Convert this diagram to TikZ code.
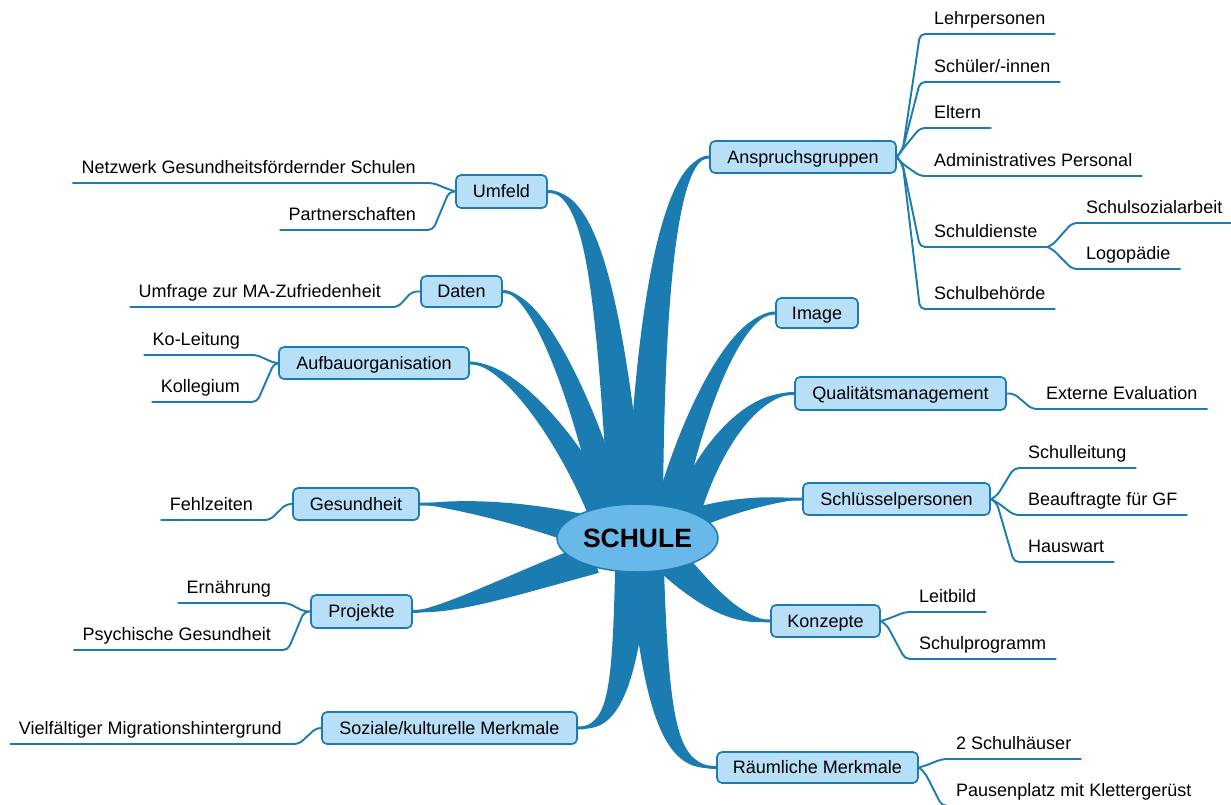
\documentclass[tikz,border=0pt]{standalone}
\usepackage{fontspec}
\setmainfont{Liberation Sans}
\usetikzlibrary{shapes.geometric,calc,backgrounds}
\definecolor{mmdark}{RGB}{27,124,178}
\definecolor{mmlight}{RGB}{184,223,248}
\definecolor{mmcenter}{RGB}{104,184,234}
\newcommand\mmfont{\fontsize{18}{21}\selectfont}
% #1 base, #2 half-width vector at base, #3 C1, #4 offset at C1, #5 C2, #6 offset at C2, #7 target
\newcommand\mmbranch[7]{%
  \fill[branch] ($#1-#2$) .. controls ($#3-#4$) and ($#5-#6$) .. #7
     .. controls ($#5+#6$) and ($#3+#4$) .. ($#1+#2$) -- cycle;
  \draw[branchline] #1 .. controls #3 and #5 .. #7;
}
\tikzset{
  mmnode/.style={draw=mmdark, fill=mmlight, line width=1.7pt, rounded corners=5pt,
    inner sep=0pt, text height=12.9pt, text depth=0pt, font=\mmfont},
  ctr/.style={ellipse, draw=mmdark, fill=mmcenter, line width=1.5pt, inner sep=0pt,
    minimum width=161pt, minimum height=68pt, text height=19pt, text depth=0pt,
    font=\bfseries\fontsize{26.5}{30}\selectfont},
  leafR/.style={inner sep=0pt, text height=13pt, text depth=9pt, anchor=south west, font=\mmfont,
    execute at begin node={\hspace*{14pt}}, execute at end node={\hspace*{10pt}}},
  leafL/.style={inner sep=0pt, text height=13pt, text depth=9pt, anchor=south east, font=\mmfont,
    execute at begin node={\hspace*{9pt}}, execute at end node={\hspace*{17pt}}},
  leafline/.style={draw=mmdark, line width=1.9pt, rounded corners=5pt},
  branch/.style={fill=mmdark},
  branchline/.style={draw=mmdark, line width=3pt},
}
\begin{document}
\begin{tikzpicture}[x=1pt,y=-1pt]
\useasboundingbox (0,0) rectangle (1231,804);
% central topic and main topics
\node[ctr] (c) at (637.5,538) {SCHULE};
\node[mmnode, minimum width=186pt, minimum height=32pt] (ansp) at (803,157) {Anspruchsgruppen};
\node[mmnode, minimum width=91pt, minimum height=33pt] (umfeld) at (501.5,191.5) {Umfeld};
\node[mmnode, minimum width=81pt, minimum height=31pt] (daten) at (461.5,291.5) {Daten};
\node[mmnode, minimum width=190pt, minimum height=32pt] (aufbau) at (374,363) {Aufbauorganisation};
\node[mmnode, minimum width=82pt, minimum height=30pt] (image) at (817,313) {Image};
\node[mmnode, minimum width=211pt, minimum height=33pt] (qm) at (900.5,393.5) {Qualitätsmanagement};
\node[mmnode, minimum width=187pt, minimum height=32pt] (schluessel) at (896.5,499) {Schlüsselpersonen};
\node[mmnode, minimum width=126pt, minimum height=32pt] (gesund) at (356,504) {Gesundheit};
\node[mmnode, minimum width=109pt, minimum height=32pt] (konzepte) at (825.5,621) {Konzepte};
\node[mmnode, minimum width=101pt, minimum height=33pt] (projekte) at (361.5,611.5) {Projekte};
\node[mmnode, minimum width=255pt, minimum height=32pt] (soziale) at (449.5,728) {Soziale/kulturelle Merkmale};
\node[mmnode, minimum width=201pt, minimum height=31pt] (raeumlich) at (817.5,767.5) {Räumliche Merkmale};
% right leaves
\node[leafR] (lehr) at (920,34) {Lehrpersonen};
\node[leafR] (schueler) at (920,82) {Schüler/-innen};
\node[leafR] (eltern) at (920,128) {Eltern};
\node[leafR] (admin) at (920,176) {Administratives Personal};
\node[leafR] (dienste) at (920,247) {Schuldienste};
\node[leafR] (behoerde) at (920,309) {Schulbehörde};
\node[leafR] (sozarb) at (1072,223) {Schulsozialarbeit};
\node[leafR] (logo) at (1072,269) {Logopädie};
\node[leafR] (extev) at (1032,409) {Externe Evaluation};
\node[leafR] (sl) at (1014,468) {Schulleitung};
\node[leafR] (bgf) at (1014,515) {Beauftragte für GF};
\node[leafR] (hw) at (1014,562) {Hauswart};
\node[leafR] (leitbild) at (905,612) {Leitbild};
\node[leafR] (schulprog) at (905,659) {Schulprogramm};
\node[leafR] (haeuser) at (942,759) {2 Schulhäuser};
\node[leafR] (pausen) at (942,806) {Pausenplatz mit Klettergerüst};
% left leaves
\node[leafL] (netz) at (433,183) {Netzwerk Gesundheitsfördernder Schulen};
\node[leafL] (partner) at (433,230) {Partnerschaften};
\node[leafL] (umfrage) at (398,307) {Umfrage zur MA-Zufriedenheit};
\node[leafL] (kol) at (257,355) {Ko-Leitung};
\node[leafL] (koll) at (257,402) {Kollegium};
\node[leafL] (fehl) at (270,520) {Fehlzeiten};
\node[leafL] (ern) at (288,603) {Ernährung};
\node[leafL] (psych) at (288,650) {Psychische Gesundheit};
\node[leafL] (viel) at (299,744) {Vielfältiger Migrationshintergrund};

\begin{pgfonlayer}{background}
\fill[white] (0,0) rectangle (1231,804);
% tapered main branches
\mmbranch{(627,515)}{(18,-1)}{(610,300)}{(14,-1)}{(592,191)}{(5,-4)}{(umfeld.east)}
\mmbranch{(645,515)}{(18,0)}{(650,290)}{(14,1)}{(672,157)}{(6,2.5)}{(ansp.west)}
\mmbranch{(612,515)}{(15,-3.4)}{(590,420)}{(11.2,-3.6)}{(540,291)}{(4.7,-3.1)}{(daten.east)}
\mmbranch{(605,518)}{(13,-5.9)}{(570,440)}{(9.2,-5.7)}{(510,363)}{(3.1,-4.2)}{(aufbau.east)}
\mmbranch{(668,515)}{(14,3.2)}{(690,420)}{(10.3,3.4)}{(735,313)}{(4,3.2)}{(image.west)}
\mmbranch{(685,515)}{(13.6,4.9)}{(712,440)}{(9.3,5.4)}{(755,393)}{(2.6,4.5)}{(qm.west)}
\mmbranch{(690,520)}{(3.8,10)}{(730,505)}{(2,7.8)}{(770,499)}{(0.3,3.9)}{(schluessel.west)}
\mmbranch{(583,530)}{(4.3,-15)}{(520,512)}{(2.4,-11.5)}{(460,504)}{(0.4,-5.6)}{(gesund.east)}
\mmbranch{(594,558)}{(-4.8,-14.9)}{(520,582)}{(-4,-10.9)}{(450,611)}{(-1.4,-5.5)}{(projekte.east)}
\mmbranch{(632,565)}{(-16.8,-0.8)}{(625,700)}{(-12.6,-1.8)}{(610,728)}{(-3.1,-5.2)}{(soziale.east)}
\mmbranch{(647,565)}{(-16.8,1)}{(657,740)}{(-12.4,1.9)}{(677,767)}{(-2.5,5.6)}{(raeumlich.west)}
\mmbranch{(672,562)}{(-11.2,10.9)}{(712,603)}{(-7.7,8.8)}{(740,621)}{(-1.7,5.3)}{(konzepte.west)}
% sub-topic connectors, right side
\draw[leafline] (ansp.east) -- ++(6,-8) -- (lehr.south west) -- (lehr.south east);
\draw[leafline] (ansp.east) -- ++(6,-8) -- (schueler.south west) -- (schueler.south east);
\draw[leafline] (ansp.east) -- ++(6,-8) -- (eltern.south west) -- (eltern.south east);
\draw[leafline] (ansp.east) -- ++(6,7) -- (admin.south west) -- (admin.south east);
\draw[leafline] (ansp.east) -- ++(6,8) -- (dienste.south west) -- (dienste.south east);
\draw[leafline] (ansp.east) -- ++(6,8) -- (behoerde.south west) -- (behoerde.south east);
\draw[leafline] (dienste.south east) -- ++(5,-2) -- (sozarb.south west) -- (sozarb.south east);
\draw[leafline] (dienste.south east) -- ++(5,2) -- (logo.south west) -- (logo.south east);
\draw[leafline] (qm.east) -- ++(7,0) -- (extev.south west) -- (extev.south east);
\draw[leafline] (schluessel.east) -- ++(6,-3) -- (sl.south west) -- (sl.south east);
\draw[leafline] (schluessel.east) -- ++(6,3) -- (bgf.south west) -- (bgf.south east);
\draw[leafline] (schluessel.east) -- ++(6,4) -- (hw.south west) -- (hw.south east);
\draw[leafline] (konzepte.east) -- ++(7,-2) -- (leitbild.south west) -- (leitbild.south east);
\draw[leafline] (konzepte.east) -- ++(6,4) -- (schulprog.south west) -- (schulprog.south east);
\draw[leafline] (raeumlich.east) -- ++(7,-2) -- (haeuser.south west) -- (haeuser.south east);
\draw[leafline] (raeumlich.east) -- ++(6,5) -- (pausen.south west) -- (pausen.south east);
% sub-topic connectors, left side
\draw[leafline] (umfeld.west) -- ++(-6,-2) -- (netz.south east) -- (netz.south west);
\draw[leafline] (umfeld.west) -- ++(-6,0) -- (partner.south east) -- (partner.south west);
\draw[leafline] (daten.west) -- ++(-8,0) -- (umfrage.south east) -- (umfrage.south west);
\draw[leafline] (aufbau.west) -- ++(-4,0) -- (kol.south east) -- (kol.south west);
\draw[leafline] (aufbau.west) -- ++(-4,0) -- (koll.south east) -- (koll.south west);
\draw[leafline] (gesund.west) -- ++(-6,0) -- (fehl.south east) -- (fehl.south west);
\draw[leafline] (projekte.west) -- ++(-6,0) -- (ern.south east) -- (ern.south west);
\draw[leafline] (projekte.west) -- ++(-6,0) -- (psych.south east) -- (psych.south west);
\draw[leafline] (soziale.west) -- ++(-5,0) -- (viel.south east) -- (viel.south west);
\end{pgfonlayer}
\end{tikzpicture}
\end{document}
